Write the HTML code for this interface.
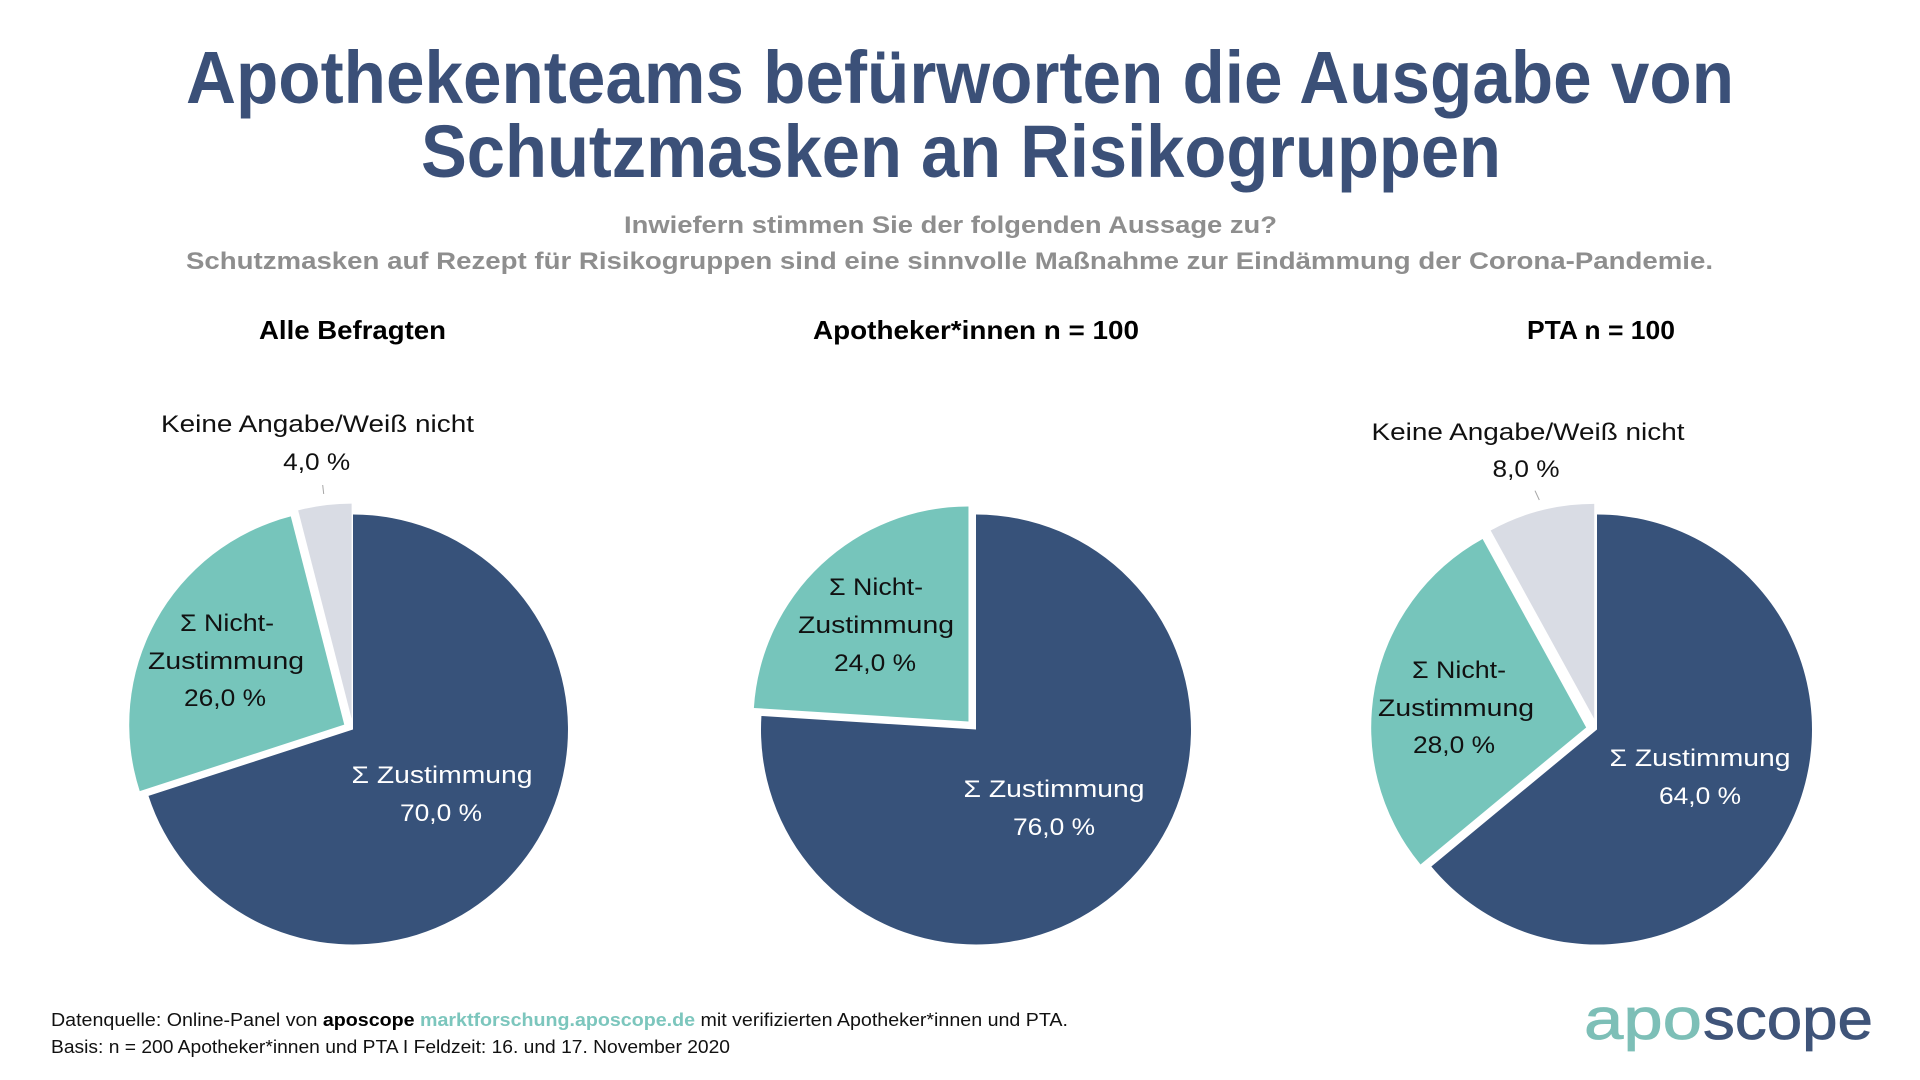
<!DOCTYPE html>
<html lang="de">
<head>
<meta charset="utf-8">
<title>Apothekenteams befürworten die Ausgabe von Schutzmasken an Risikogruppen</title>
<style>
  html,body{margin:0;padding:0;background:#fff;}
  svg{display:block;}
  text{font-family:"Liberation Sans",Arial,sans-serif;}
</style>
</head>
<body>
<svg width="1920" height="1080" viewBox="0 0 1920 1080" xmlns="http://www.w3.org/2000/svg">
  <rect x="0" y="0" width="1920" height="1080" fill="#ffffff"/>

  <!-- Title -->
  <text x="186" y="103" font-size="74" font-weight="bold" fill="#3b5078" textLength="1548" lengthAdjust="spacingAndGlyphs">Apothekenteams befürworten die Ausgabe von</text>
  <text x="421" y="177" font-size="74" font-weight="bold" fill="#3b5078" textLength="1080" lengthAdjust="spacingAndGlyphs">Schutzmasken an Risikogruppen</text>

  <!-- Subtitle -->
  <text x="624" y="233" font-size="24" font-weight="bold" fill="#8e8e8e" textLength="653" lengthAdjust="spacingAndGlyphs">Inwiefern stimmen Sie der folgenden Aussage zu?</text>
  <text x="186" y="269" font-size="24" font-weight="bold" fill="#8e8e8e" textLength="1527" lengthAdjust="spacingAndGlyphs">Schutzmasken auf Rezept für Risikogruppen sind eine sinnvolle Maßnahme zur Eindämmung der Corona-Pandemie.</text>

  <!-- Section headers -->
  <text x="259" y="339" font-size="26" font-weight="bold" fill="#000" textLength="187" lengthAdjust="spacingAndGlyphs">Alle Befragten</text>
  <text x="813" y="339" font-size="26" font-weight="bold" fill="#000" textLength="326" lengthAdjust="spacingAndGlyphs">Apotheker*innen n = 100</text>
  <text x="1527" y="339" font-size="26" font-weight="bold" fill="#000" textLength="148" lengthAdjust="spacingAndGlyphs">PTA n = 100</text>

  <!-- ===== Pie 1: Alle Befragten ===== -->
  <path d="M353,729.5 L353,514.5 A215,215 0 1 1 148.5,795.9 Z" fill="#37527a"/>
  <path d="M344.24,724.68 L139.74,791.08 A215,215 0 0 1 290.77,516.43 Z" fill="#76c5bb"/>
  <path d="M351.62,718.59 L298.15,510.34 A215,215 0 0 1 351.62,503.59 Z" fill="#d9dce4"/>
  <line x1="322.7" y1="485" x2="323.7" y2="494" stroke="#a6a6a6" stroke-width="1"/>

  <text x="317.5" y="432" font-size="24" fill="#111" text-anchor="middle" textLength="313" lengthAdjust="spacingAndGlyphs">Keine Angabe/Weiß nicht</text>
  <text x="316.7" y="470" font-size="24" fill="#111" text-anchor="middle" textLength="67" lengthAdjust="spacingAndGlyphs">4,0 %</text>

  <text x="227" y="631" font-size="24" fill="#111" text-anchor="middle" textLength="94" lengthAdjust="spacingAndGlyphs">Σ Nicht-</text>
  <text x="226" y="669" font-size="24" fill="#111" text-anchor="middle" textLength="156" lengthAdjust="spacingAndGlyphs">Zustimmung</text>
  <text x="225" y="706" font-size="24" fill="#111" text-anchor="middle" textLength="82" lengthAdjust="spacingAndGlyphs">26,0 %</text>

  <text x="442" y="783" font-size="24" fill="#ffffff" text-anchor="middle" textLength="181" lengthAdjust="spacingAndGlyphs">Σ Zustimmung</text>
  <text x="441" y="821" font-size="24" fill="#ffffff" text-anchor="middle" textLength="82" lengthAdjust="spacingAndGlyphs">70,0 %</text>

  <!-- ===== Pie 2: Apotheker*innen ===== -->
  <path d="M976,729.5 L976,514.5 A215,215 0 1 1 761.42,716.0 Z" fill="#37527a"/>
  <path d="M968.47,721.48 L753.89,707.98 A215,215 0 0 1 968.47,506.48 Z" fill="#76c5bb"/>

  <text x="876" y="595" font-size="24" fill="#111" text-anchor="middle" textLength="94" lengthAdjust="spacingAndGlyphs">Σ Nicht-</text>
  <text x="876" y="633" font-size="24" fill="#111" text-anchor="middle" textLength="156" lengthAdjust="spacingAndGlyphs">Zustimmung</text>
  <text x="875" y="671" font-size="24" fill="#111" text-anchor="middle" textLength="82" lengthAdjust="spacingAndGlyphs">24,0 %</text>

  <text x="1054" y="797" font-size="24" fill="#ffffff" text-anchor="middle" textLength="181" lengthAdjust="spacingAndGlyphs">Σ Zustimmung</text>
  <text x="1054" y="835" font-size="24" fill="#ffffff" text-anchor="middle" textLength="82" lengthAdjust="spacingAndGlyphs">76,0 %</text>

  <!-- ===== Pie 3: PTA ===== -->
  <path d="M1597,729.5 L1597,514.5 A215,215 0 1 1 1431.34,866.54 Z" fill="#37527a"/>
  <path d="M1586.19,727.44 L1420.53,864.48 A215,215 0 0 1 1482.60,539.04 Z" fill="#76c5bb"/>
  <path d="M1594.26,718.85 L1490.67,530.45 A215,215 0 0 1 1594.26,503.85 Z" fill="#d9dce4"/>
  <line x1="1535" y1="490.7" x2="1539.3" y2="500" stroke="#a6a6a6" stroke-width="1"/>

  <text x="1528" y="440" font-size="24" fill="#111" text-anchor="middle" textLength="313" lengthAdjust="spacingAndGlyphs">Keine Angabe/Weiß nicht</text>
  <text x="1526" y="477" font-size="24" fill="#111" text-anchor="middle" textLength="67" lengthAdjust="spacingAndGlyphs">8,0 %</text>

  <text x="1459" y="678" font-size="24" fill="#111" text-anchor="middle" textLength="94" lengthAdjust="spacingAndGlyphs">Σ Nicht-</text>
  <text x="1456" y="716" font-size="24" fill="#111" text-anchor="middle" textLength="156" lengthAdjust="spacingAndGlyphs">Zustimmung</text>
  <text x="1454" y="753" font-size="24" fill="#111" text-anchor="middle" textLength="82" lengthAdjust="spacingAndGlyphs">28,0 %</text>

  <text x="1700" y="766" font-size="24" fill="#ffffff" text-anchor="middle" textLength="181" lengthAdjust="spacingAndGlyphs">Σ Zustimmung</text>
  <text x="1700" y="804" font-size="24" fill="#ffffff" text-anchor="middle" textLength="82" lengthAdjust="spacingAndGlyphs">64,0 %</text>

  <!-- Footer -->
  <text x="51" y="1026" font-size="18" fill="#111" textLength="1017" lengthAdjust="spacingAndGlyphs">Datenquelle: Online-Panel von <tspan font-weight="bold" fill="#000">aposcope</tspan> <tspan font-weight="bold" fill="#7cc6bd">marktforschung.aposcope.de</tspan> mit verifizierten Apotheker*innen und PTA.</text>
  <text x="51" y="1053" font-size="18" fill="#111" textLength="679" lengthAdjust="spacingAndGlyphs">Basis: n = 200 Apotheker*innen und PTA I Feldzeit: 16. und 17. November 2020</text>

  <!-- Logo -->
  <text x="1584" y="1039" font-size="58" fill="#7dbfb7" stroke="#7dbfb7" stroke-width="0.8" textLength="118" lengthAdjust="spacingAndGlyphs">apo</text>
  <text x="1703" y="1039" font-size="58" fill="#3f5479" stroke="#3f5479" stroke-width="0.8" textLength="170" lengthAdjust="spacingAndGlyphs">scope</text>
</svg>
</body>
</html>
